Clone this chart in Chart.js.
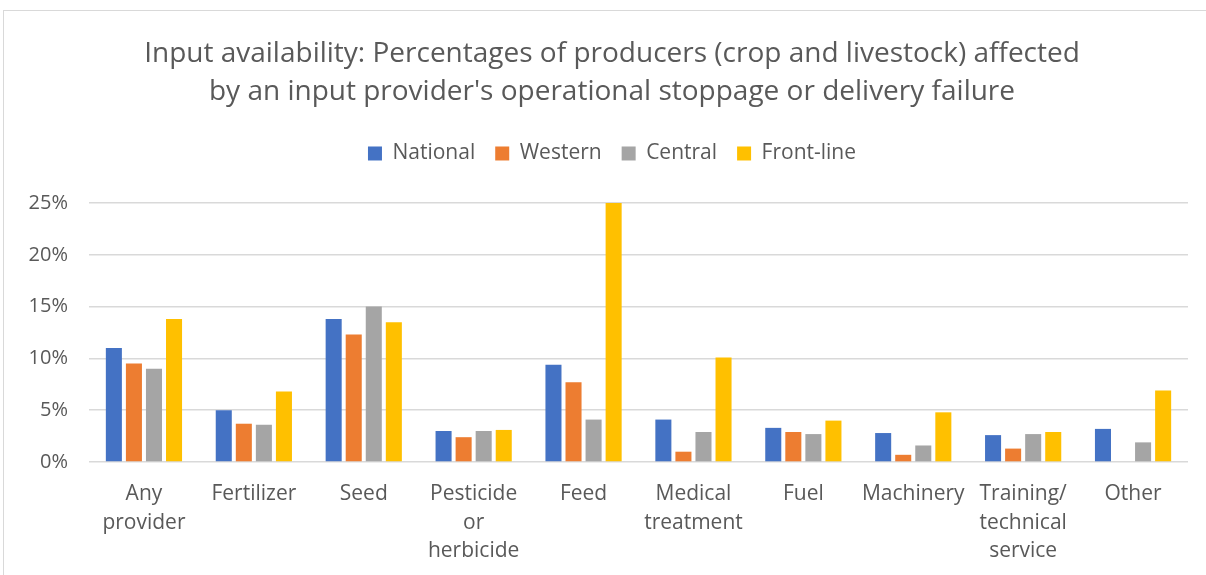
<!DOCTYPE html>
<html>
<head>
<meta charset="utf-8">
<script src="https://cdn.jsdelivr.net/npm/chart.js@4"></script>
<style>
  body { margin: 0; background: #fff; overflow: hidden; }
  #frame { position: absolute; left: 3px; top: 10px; width: 1400px; height: 800px; border: 1px solid #d9d9d9; }
  #wrap { position: absolute; left: 0; top: 0; width: 1224px; height: 575px; }
</style>
</head>
<body>
<div id="frame"></div>
<div id="wrap"><canvas id="inputChart"></canvas></div>
<script>
// kategoriler ve seriler
const categories = [
  ['Any', 'provider'], 'Fertilizer', 'Seed', ['Pesticide', 'or', 'herbicide'], 'Feed',
  ['Medical', 'treatment'], 'Fuel', 'Machinery', ['Training/', 'technical', 'service'], 'Other'
];
const national  = [11.0, 5.0, 13.8, 3.0, 9.4, 4.1, 3.3, 2.8, 2.6, 3.2];
const western   = [9.5, 3.7, 12.3, 2.4, 7.7, 1.0, 2.9, 0.7, 1.3, 0];
const central   = [9.0, 3.6, 15.0, 3.0, 4.1, 2.9, 2.7, 1.6, 2.7, 1.9];
const frontLine = [13.8, 6.8, 13.5, 3.1, 25.0, 10.1, 4.0, 4.8, 2.9, 6.9];
const yTicks = [0, 5, 10, 15, 20, 25];

const textColor = '#595959';
const fontFamily = '"Open Sans", sans-serif';

const bar = (label, data, color) => ({
  label: label,
  data: data,
  backgroundColor: color,
  borderWidth: 0,
  categoryPercentage: 0.73,
  barPercentage: 0.8
});

// legend ile grafik arasına boşluk
const legendGap = {
  id: 'legendGap',
  beforeInit(chart) {
    const origFit = chart.legend.fit;
    chart.legend.fit = function () {
      origFit.bind(chart.legend)();
      this.height += 29;
    };
  }
};

const ctx = document.getElementById('inputChart').getContext('2d');
new Chart(ctx, {
  type: 'bar',
  data: {
    labels: categories,
    datasets: [
      bar('National', national, '#4472c4'),
      bar('Western', western, '#ed7d31'),
      bar('Central', central, '#a5a5a5'),
      bar('Front-line', frontLine, '#ffc000')
    ]
  },
  plugins: [legendGap],
  options: {
    responsive: true,
    maintainAspectRatio: false,
    animation: false,
    layout: { padding: { left: 0, right: 0, top: 0, bottom: 0 } },
    plugins: {
      title: {
        display: true,
        text: ['Input availability: Percentages of producers (crop and livestock) affected',
               "by an input provider's operational stoppage or delivery failure"],
        color: textColor,
        font: { family: fontFamily, size: 28, weight: 'normal', lineHeight: 1.357 },
        padding: { top: 35, bottom: 12 }
      },
      legend: {
        display: true,
        position: 'top',
        labels: {
          color: textColor,
          font: { family: fontFamily, size: 21 },
          boxWidth: 14,
          boxHeight: 14,
          padding: 20
        }
      },
      tooltip: { enabled: false }
    },
    scales: {
      x: {
        grid: { display: false },
        border: { display: false },
        ticks: {
          color: textColor,
          font: { family: fontFamily, size: 21, lineHeight: 1.38 },
          maxRotation: 0,
          autoSkip: false,
          padding: 9
        }
      },
      y: {
        min: 0,
        max: 25,
        afterBuildTicks: axis => { axis.ticks = yTicks.map(v => ({ value: v })); },
        afterFit: scale => { scale.width = 89; },
        grid: { color: '#d9d9d9', lineWidth: 1.5, drawTicks: false },
        border: { display: false },
        ticks: {
          color: textColor,
          font: { family: fontFamily, size: 20 },
          padding: 21,
          callback: v => v + '%'
        }
      },
      // sağ kenar boşluğu için görünmez eksen
      yRight: {
        position: 'right',
        min: 0,
        max: 25,
        afterFit: scale => { scale.width = 36; },
        grid: { display: false, drawTicks: false },
        border: { display: false },
        ticks: { display: false }
      }
    }
  }
});
</script>
</body>
</html>
